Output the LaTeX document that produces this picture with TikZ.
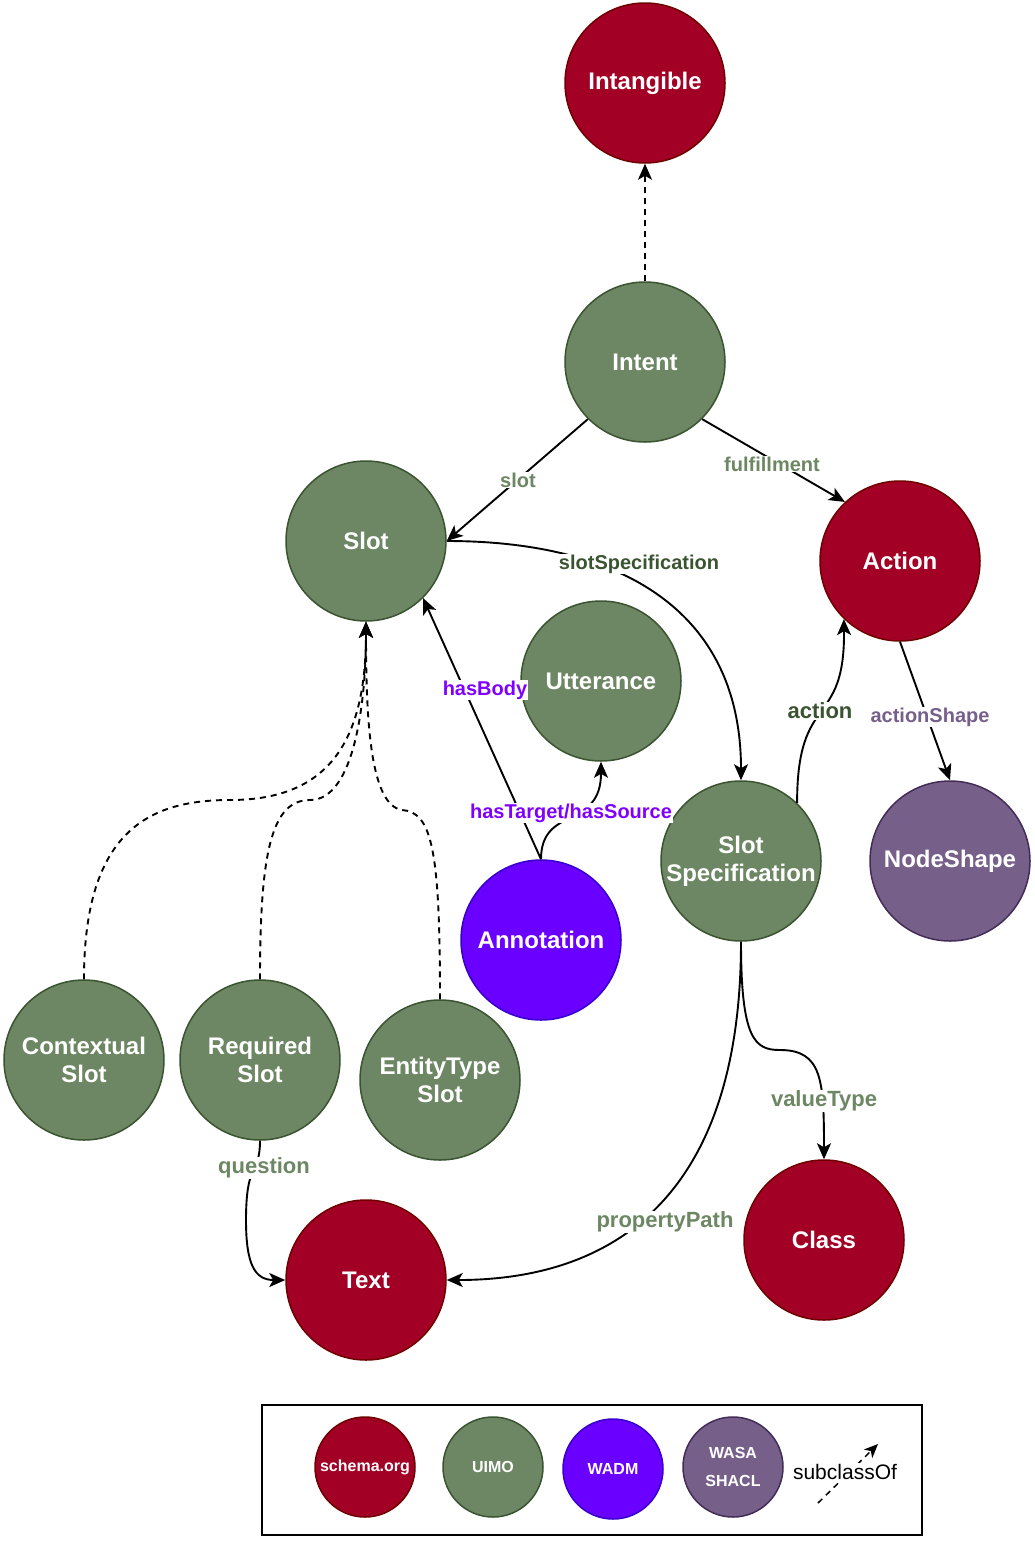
\documentclass[tikz,border=0pt]{standalone}
\usepackage{fontspec}
\setmainfont{Liberation Sans}
\usetikzlibrary{arrows.meta}
\definecolor{sred}{HTML}{A20025}
\definecolor{sredb}{HTML}{6F0000}
\definecolor{ugreen}{HTML}{6D8764}
\definecolor{ugreenb}{HTML}{3A5431}
\definecolor{wblue}{HTML}{6A00FF}
\definecolor{wblueb}{HTML}{3700CC}
\definecolor{wpurple}{HTML}{76608A}
\definecolor{wpurpleb}{HTML}{432D57}
\definecolor{lblpurple}{HTML}{7F00FF}
\begin{document}
\begin{tikzpicture}[x=1pt,y=-1pt,
  ball/.style={circle,minimum size=160pt,inner sep=0pt,line width=1.5pt,text=white,align=center,
    font=\fontsize{24}{28}\selectfont\bfseries},
  redball/.style={ball,fill=sred,draw=sredb},
  greenball/.style={ball,fill=ugreen,draw=ugreenb},
  blueball/.style={ball,fill=wblue,draw=wblueb},
  purpleball/.style={ball,fill=wpurple,draw=wpurpleb},
  small/.style={minimum size=100pt,font=\fontsize{16}{28}\selectfont\bfseries},
  edge/.style={line width=1.9pt,-{Stealth[length=16pt,width=14pt,inset=4pt]}},
  dedge/.style={edge,dash pattern=on 6pt off 5pt},
  elabel/.style={fill=white,inner sep=1pt,font=\fontsize{20}{24}\selectfont\bfseries},
  biglabel/.style={elabel,font=\fontsize{22}{26}\selectfont\bfseries},
]
\useasboundingbox (0,0) rectangle (1034,1542);

% nodes
\node[redball] (intangible) at (645,83) {Intangible};
\node[greenball] (intent) at (645,362) {Intent};
\node[greenball] (slot) at (366,541) {Slot};
\node[redball] (action) at (900,561) {Action};
\node[greenball] (utt) at (601,681) {Utterance};
\node[greenball] (spec) at (741,861) {Slot\\Specification};
\node[purpleball] (nodeshape) at (950,861) {NodeShape};
\node[blueball] (annot) at (541,940) {Annotation};
\node[greenball] (ctx) at (84,1060) {Contextual\\Slot};
\node[greenball] (req) at (260,1060) {Required\\Slot};
\node[greenball] (ent) at (440,1080) {EntityType\\Slot};
\node[redball] (text) at (366,1280) {Text};
\node[redball] (class) at (824,1240) {Class};

% edges
\draw[dedge] (intent.north) -- (intangible.south);
\draw[edge] (intent.-135) -- (slot.east);
\draw[edge] (intent.-45) -- (action.133);
\draw[edge] (slot.east) .. controls (620,541) and (741,610) .. (spec.north);
\draw[edge] (annot.north) -- (slot.-45);
\draw[edge] (annot.north) .. controls (541,805) and (601,830) .. (utt.south);
\draw[edge] (spec.46) .. controls (797,690) and (845,730) .. (action.-134);
\draw[edge] (action.south) -- (nodeshape.north);
\draw[edge] (spec.south) .. controls (741,1040) and (755,1050) .. (780,1050) .. controls (822,1050) and (824,1080) .. (class.north);
\draw[edge] (spec.south) .. controls (741,1190) and (620,1280) .. (text.east);
\draw[edge] (req.south) .. controls (260,1175) and (246,1160) .. (246,1220) .. controls (246,1265) and (255,1280) .. (text.west);
\draw[dedge] (ctx.north) .. controls (84,830) and (150,800) .. (230,800) .. controls (330,800) and (366,740) .. (slot.south);
\draw[dedge] (req.north) .. controls (260,850) and (272,800) .. (310,800) .. controls (355,800) and (366,700) .. (slot.south);
\draw[dedge] (ent.north) .. controls (440,850) and (432,812) .. (402,810) .. controls (370,805) and (366,720) .. (slot.south);

% edge labels
\node[elabel,text=ugreen] (lslot) at (518,480) {slot};
\node[elabel,text=ugreen] (lfulfil) at (772,464) {fulfillment};
\node[elabel,text=ugreenb] (lspec) at (639,564) {slotSpecification};
\node[elabel,text=lblpurple] (lbody) at (485,690) {hasBody};
\node[elabel,text=lblpurple] (ltarget) at (571,813) {hasTarget/hasSource};
\node[biglabel,text=ugreenb] (laction) at (820,711) {action};
\node[elabel,text=wpurple] (lshape) at (930,717) {actionShape};
\node[biglabel,text=ugreen] (lvalue) at (824,1101) {valueType};
\node[biglabel,text=ugreen] (lpath) at (665,1222) {propertyPath};
\node[biglabel,text=ugreen] (lquestion) at (264,1168) {question};

% legend
\node[draw=black,line width=1.5pt,minimum width=660pt,minimum height=130pt,inner sep=0pt] (legend) at (592,1470) {};
\node[redball,small] (lgschema) at (365,1467) {schema.org};
\node[greenball,small] (lguimo) at (493,1467) {UIMO};
\node[blueball,small] (lgwadm) at (613,1469) {WADM};
\node[purpleball,small] (lgwasa) at (733,1467) {WASA\\SHACL};
\coordinate (subA) at (818,1503);
\coordinate (subB) at (878,1444);
\draw[dedge,line width=1.5pt,-{Stealth[length=14pt,width=12pt,inset=4pt]}] (subA) -- (subB);
\node[fill=white,inner sep=1pt,font=\fontsize{21}{24}\selectfont] (lgsub) at (845,1472) {subclassOf};
\end{tikzpicture}
\end{document}
